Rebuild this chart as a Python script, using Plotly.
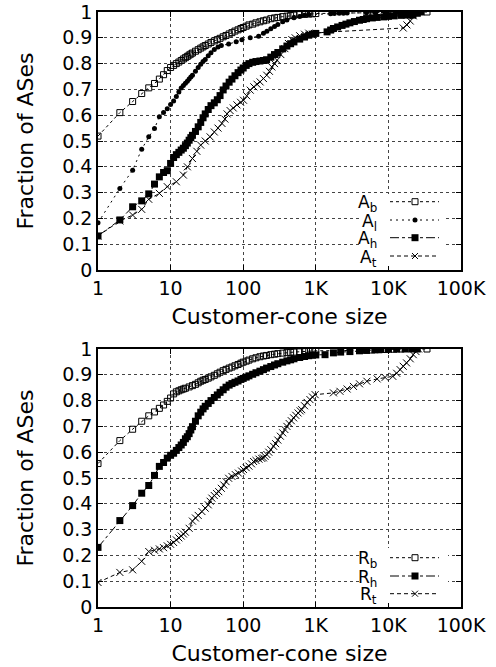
import plotly.graph_objects as go

W, H = 496, 667
ML, MR, MT, MB = 98, 35, 12, 60
FONT = "DejaVu Sans"

# ---------------- data (top panel) ----------------
x_Ab = [1,2,3,4,5,6,7,8,9,10,11,12,13,14,15,16,17,18,19,20,22,24,26,28,30,33,36,40,44,48,53,58,64,70,77,85,93,100,110,120,135,150,170,190,210,240,270,300,350,400,450,500,600,700,800,900,1000,5070,6300,7800,10600,14500,20000,34000]
y_Ab = [0.519,0.61,0.653,0.684,0.706,0.723,0.74,0.757,0.773,0.785,0.793,0.8,0.806,0.812,0.818,0.823,0.828,0.833,0.837,0.841,0.848,0.854,0.86,0.865,0.87,0.876,0.882,0.888,0.893,0.898,0.904,0.909,0.915,0.92,0.926,0.931,0.936,0.94,0.945,0.95,0.953,0.958,0.962,0.966,0.969,0.974,0.977,0.979,0.982,0.984,0.986,0.988,0.99,0.991,0.992,0.993,0.994,0.997,0.998,0.998,0.999,0.999,1.0,1.0]

x_Al = [1,2,3,4,5,6,7,8,9,10,11,12,13,14,15,16,17,18,19,20,22,24,26,28,30,33,36,40,45,50,63,80,96,125,163,190,212,240,270,300,350,400,500,600,700,800,1600,1800,2100,2400,2700,5000,6500,9000,13000,18000,24000]
y_Al = [0.183,0.316,0.387,0.468,0.516,0.548,0.594,0.61,0.625,0.641,0.655,0.672,0.69,0.705,0.715,0.724,0.732,0.74,0.748,0.755,0.77,0.785,0.797,0.808,0.816,0.83,0.842,0.855,0.864,0.87,0.876,0.885,0.892,0.9,0.906,0.918,0.925,0.935,0.944,0.952,0.962,0.969,0.978,0.983,0.987,0.99,0.993,0.994,0.995,0.995,0.996,0.997,0.998,0.998,0.999,1.0,1.0]

x_Ah = [1,2,3,4,5,6,7,8,9,10,11,12,13,14,15,16,17,18,19,20,22,24,26,28,30,33,36,40,44,48,53,58,64,70,77,85,93,100,110,120,135,150,170,190,210,240,270,300,350,400,450,500,600,700,800,900,1000,1430,1600,1750,2000,2300,2600,2950,3400,4000,4500,5000,6000,7000,8650,10000,12000,15000,18000,21800,25000,28000]
y_Ah = [0.132,0.194,0.245,0.268,0.295,0.333,0.361,0.378,0.385,0.413,0.436,0.447,0.456,0.465,0.472,0.482,0.492,0.503,0.513,0.522,0.537,0.555,0.572,0.59,0.605,0.622,0.637,0.648,0.66,0.676,0.698,0.713,0.728,0.74,0.753,0.765,0.775,0.783,0.793,0.8,0.805,0.808,0.81,0.812,0.815,0.825,0.835,0.843,0.857,0.868,0.877,0.884,0.895,0.903,0.91,0.914,0.917,0.923,0.93,0.936,0.942,0.948,0.953,0.958,0.963,0.968,0.971,0.974,0.977,0.979,0.981,0.983,0.985,0.987,0.988,0.988,0.995,1.0]

x_At = [1,2,3,4,5,7,9,12,15,17,20,23,26,30,35,40,45,51,56,60,66,73,82,92,101,112,125,140,155,171,190,211,230,248,270,292,330,375,420,468,520,600,700,800,16000,18000,20000,22000,24500]
y_At = [0.132,0.19,0.213,0.235,0.274,0.297,0.323,0.342,0.368,0.4,0.432,0.46,0.484,0.5,0.516,0.535,0.55,0.568,0.585,0.605,0.618,0.628,0.64,0.65,0.658,0.675,0.697,0.71,0.72,0.729,0.742,0.755,0.77,0.787,0.8,0.813,0.835,0.858,0.878,0.893,0.9,0.908,0.914,0.918,0.938,0.95,0.965,0.985,1.0]

# ---------------- data (bottom panel) ----------------
x_Rb = [1,2,3,4,5,6,7,8,9,10,11,12,13,14,15,16,18,20,22,24,26,28,30,33,36,40,44,48,53,58,64,70,77,85,93,100,110,120,135,150,170,190,210,240,270,300,350,400,450,500,600,700,800,900,1000,5000,6000,7500,9500,12000,15000,34000]
y_Rb = [0.556,0.645,0.689,0.72,0.741,0.756,0.77,0.783,0.797,0.81,0.826,0.834,0.838,0.842,0.845,0.848,0.853,0.858,0.863,0.869,0.875,0.879,0.882,0.887,0.892,0.898,0.904,0.91,0.916,0.921,0.926,0.93,0.935,0.94,0.945,0.949,0.953,0.957,0.962,0.966,0.97,0.973,0.975,0.978,0.98,0.982,0.984,0.986,0.987,0.988,0.989,0.99,0.991,0.992,0.993,0.995,0.996,0.997,0.998,0.999,1.0,1.0]

x_Rh = [1,2,3,4,5,6,7,8,9,10,11,12,13,14,15,16,17,18,19,20,22,24,26,28,30,33,36,40,44,48,53,58,64,70,77,85,93,100,110,120,135,150,170,190,210,240,270,300,350,400,450,500,600,700,800,900,1000,1340,1750,2200,2950,4000,5000,6500,7800,10000,13000,17000,21000,25000]
y_Rh = [0.231,0.335,0.393,0.441,0.471,0.51,0.545,0.56,0.577,0.588,0.596,0.607,0.618,0.628,0.638,0.652,0.66,0.672,0.686,0.699,0.72,0.741,0.755,0.768,0.778,0.789,0.8,0.812,0.822,0.832,0.842,0.852,0.86,0.866,0.871,0.876,0.882,0.886,0.891,0.896,0.902,0.908,0.914,0.92,0.926,0.932,0.938,0.943,0.949,0.954,0.958,0.962,0.967,0.971,0.974,0.976,0.977,0.978,0.985,0.988,0.99,0.993,0.995,0.997,0.998,0.999,1.0,1.0,1.0,1.0]

x_Rt = [1,2,3,4,5,6,7,8,9,10,11,12,13,14,15,16,18,20,22,24,27,30,33,35,37,40,43,46,50,54,58,63,70,78,86,95,101,110,120,130,139,150,165,180,190,200,212,225,240,262,280,300,325,350,375,400,430,460,495,530,570,610,640,700,760,830,900,980,1750,2150,2700,3300,4000,5050,7000,9000,11500,13000,14500,16000,17800,20000,22000,24000,26000]
y_Rt = [0.095,0.134,0.144,0.177,0.215,0.22,0.225,0.23,0.237,0.243,0.25,0.26,0.268,0.275,0.283,0.29,0.305,0.333,0.345,0.355,0.37,0.383,0.396,0.41,0.422,0.432,0.44,0.447,0.46,0.473,0.486,0.499,0.506,0.513,0.519,0.527,0.533,0.54,0.546,0.555,0.564,0.568,0.573,0.576,0.578,0.584,0.591,0.6,0.61,0.623,0.633,0.647,0.662,0.675,0.688,0.7,0.711,0.722,0.733,0.743,0.752,0.76,0.765,0.78,0.793,0.804,0.814,0.823,0.83,0.836,0.845,0.855,0.865,0.875,0.884,0.89,0.894,0.906,0.92,0.933,0.946,0.962,0.978,0.99,1.0]

x_tickvals = [1, 10, 100, 1000, 10000, 100000]
x_ticktext = ["1", "10", "100", "1K", "10K", "100K"]
y_tickvals = [0, 0.1, 0.2, 0.3, 0.4, 0.5, 0.6, 0.7, 0.8, 0.9, 1.0]
y_ticktext = ["0", "0.1", "0.2", "0.3", "0.4", "0.5", "0.6", "0.7", "0.8", "0.9", "1"]

top_labels = ["A<sub>b</sub>", "A<sub>l</sub>", "A<sub>h</sub>", "A<sub>t</sub>"]
bot_labels = ["R<sub>b</sub>", "R<sub>h</sub>", "R<sub>t</sub>"]

# ---------------- styles ----------------
STY = {
    "b": dict(symbol="square-open", size=6, dash="dot", lw=1, mlw=1),
    "l": dict(symbol="circle", size=5, dash="2px,4px", lw=1, mlw=0),
    "h": dict(symbol="square", size=7, dash="dashdot", lw=1, mlw=0),
    "t": dict(symbol="x-thin-open", size=7, dash="4px,3px", lw=1, mlw=1),
}

fig = go.Figure()

def add(x, y, row, key):
    assert len(x) == len(y)
    s = STY[key]
    fig.add_trace(go.Scatter(
        x=x, y=y, xaxis="x" if row == 1 else "x2", yaxis="y" if row == 1 else "y2",
        mode="lines+markers",
        line=dict(color="black", width=s["lw"], dash=s["dash"]),
        marker=dict(symbol=s["symbol"], size=s["size"], color="black",
                    line=dict(color="black", width=s["mlw"])),
        showlegend=False, hoverinfo="skip"))

add(x_Ab, y_Ab, 1, "b")
add(x_Al, y_Al, 1, "l")
add(x_Ah, y_Ah, 1, "h")
add(x_At, y_At, 1, "t")
add(x_Rb, y_Rb, 2, "b")
add(x_Rh, y_Rh, 2, "h")
add(x_Rt, y_Rt, 2, "t")

PW = W - ML - MR
PH = H - MT - MB
def PX(X):
    return (X - ML) / PW
def PY(Y):
    return (H - MB - Y) / PH

top_dom = [PY(270), 1.0]
bot_dom = [0.0, PY(349)]

tickfont = dict(family=FONT, size=19, color="black")
titlefont = dict(family=FONT, size=22, color="black")
common = dict(showline=True, linecolor="black", linewidth=1.5, mirror="ticks",
              ticks="inside", ticklen=5, tickwidth=1, tickcolor="black",
              showgrid=True, gridcolor="#444", griddash="dot", gridwidth=1,
              zeroline=False, tickfont=tickfont)

def xax(anchor):
    return dict(common, type="log", range=[0, 5], tickvals=x_tickvals, ticktext=x_ticktext,
                anchor=anchor, domain=[0, 1],
                title=dict(text="Customer-cone size", font=titlefont, standoff=11))

def yax(anchor, dom):
    return dict(common, range=[0, 1], tickvals=y_tickvals, ticktext=y_ticktext,
                anchor=anchor, domain=dom,
                title=dict(text="Fraction of ASes", font=titlefont, standoff=23))

shapes = []
annotations = []

def legend(rows_Y, labels, keys, box):
    X0, Y0, X1, Y1 = box
    shapes.append(dict(type="rect", xref="paper", yref="paper", x0=PX(X0), x1=PX(X1),
                       y0=PY(Y1), y1=PY(Y0), fillcolor="white", line=dict(width=0), layer="above"))
    for Y, lab, k in zip(rows_Y, labels, keys):
        s = STY[k]
        shapes.append(dict(type="line", xref="paper", yref="paper", x0=PX(390), x1=PX(439),
                           y0=PY(Y), y1=PY(Y), line=dict(color="black", width=1, dash=s["dash"]),
                           layer="above"))
        mx = 415
        if k == "b":
            shapes.append(dict(type="rect", xref="paper", yref="paper", x0=PX(mx - 3), x1=PX(mx + 3),
                               y0=PY(Y + 3), y1=PY(Y - 3), fillcolor="white",
                               line=dict(color="black", width=1), layer="above"))
        elif k == "l":
            shapes.append(dict(type="circle", xref="paper", yref="paper", x0=PX(mx - 2.5), x1=PX(mx + 2.5),
                               y0=PY(Y + 2.5), y1=PY(Y - 2.5), fillcolor="black",
                               line=dict(color="black", width=0), layer="above"))
        elif k == "h":
            shapes.append(dict(type="rect", xref="paper", yref="paper", x0=PX(mx - 3.5), x1=PX(mx + 3.5),
                               y0=PY(Y + 3.5), y1=PY(Y - 3.5), fillcolor="black",
                               line=dict(color="black", width=0), layer="above"))
        else:
            for d in (1, -1):
                shapes.append(dict(type="line", xref="paper", yref="paper", x0=PX(mx - 3), x1=PX(mx + 3),
                                   y0=PY(Y + 3 * d), y1=PY(Y - 3 * d),
                                   line=dict(color="black", width=1), layer="above"))
        annotations.append(dict(xref="paper", yref="paper", x=PX(379), y=PY(Y), xanchor="right",
                                yanchor="middle", yshift=-2, text=lab, showarrow=False,
                                font=dict(family=FONT, size=17, color="black")))

legend([201.7, 220, 237.7, 256], top_labels, ["b", "l", "h", "t"], (361, 194, 444, 266))
legend([557.7, 576, 593.7], bot_labels, ["b", "h", "t"], (362, 548, 448, 603))

fig.update_layout(
    width=W, height=H, margin=dict(l=ML, r=MR, t=MT, b=MB, autoexpand=False),
    paper_bgcolor="white", plot_bgcolor="white",
    font=dict(family=FONT, color="black"),
    xaxis=xax("y"), yaxis=yax("x", top_dom),
    xaxis2=xax("y2"), yaxis2=yax("x2", bot_dom),
    shapes=shapes, annotations=annotations, showlegend=False,
)

fig.write_html("out.html")
